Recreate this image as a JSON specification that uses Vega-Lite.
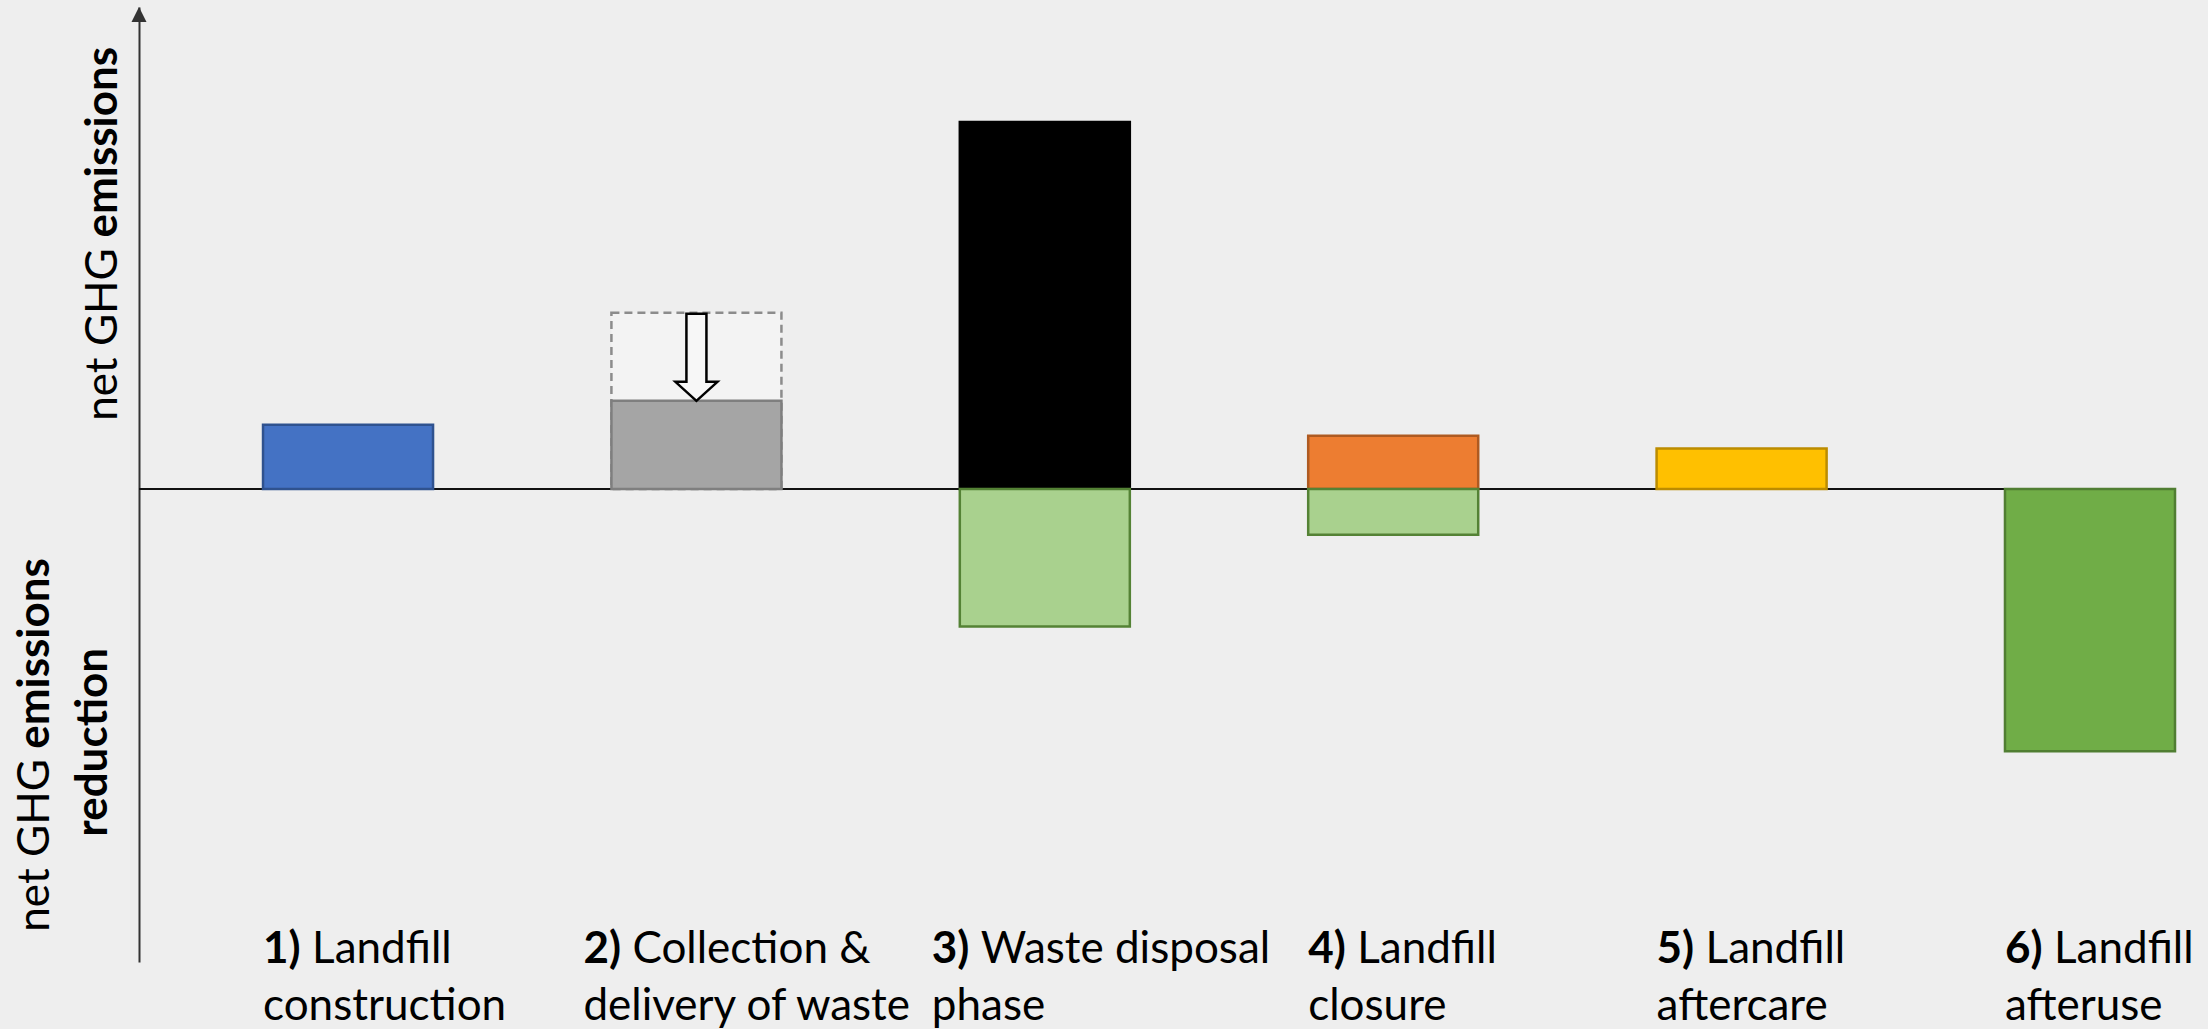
{
  "$schema": "https://vega.github.io/schema/vega-lite/v6.json",
  "width": 2036,
  "height": 955,
  "autosize": {"type": "none"},
  "padding": {"left": 139, "top": 7, "right": 33, "bottom": 67},
  "background": "#eeeeee",
  "config": {"view": {"stroke": null}, "font": "Lato"},
  "datasets": {
    "phases": [
      {"stage": "1) Landfill\nconstruction", "part": "Landfill construction", "value": 17.5},
      {"stage": "2) Collection &\ndelivery of waste", "part": "Collection & delivery", "value": 24},
      {"stage": "3) Waste disposal\nphase", "part": "Waste disposal", "value": 100},
      {"stage": "3) Waste disposal\nphase", "part": "Emissions reduction", "value": -37.5},
      {"stage": "4) Landfill\nclosure", "part": "Landfill closure", "value": 14.5},
      {"stage": "4) Landfill\nclosure", "part": "Emissions reduction", "value": -12.5},
      {"stage": "5) Landfill\naftercare", "part": "Landfill aftercare", "value": 11},
      {"stage": "6) Landfill\nafteruse", "part": "Landfill afteruse", "value": -71.5}
    ],
    "before_reduction": [
      {"stage": "2) Collection &\ndelivery of waste", "value": 48}
    ]
  },
  "layer": [
    {
      "layer": [
        {
          "data": {"values": [{}]},
          "mark": {"type": "rule", "color": "#111111", "strokeWidth": 2},
          "encoding": {"y": {"datum": 0, "type": "quantitative"}}
        },
        {
          "data": {"name": "before_reduction"},
          "mark": {"type": "bar", "fill": "#f3f3f3", "stroke": "#8c8c8c", "strokeWidth": 2.5, "strokeDash": [8, 5]},
          "encoding": {
            "x": {
              "field": "stage",
              "type": "nominal",
              "axis": {
                "orient": "bottom",
                "title": null,
                "domain": false,
                "ticks": false,
                "tickSize": 0,
                "grid": false,
                "labelAngle": 0,
                "labelAlign": "left",
                "labelBaseline": "top",
                "labelOffset": {"expr": "(substring(datum.label, 0, 1) == '2' || substring(datum.label, 0, 1) == '3') ? -113 : -85"},
                "labelPadding": 22,
                "labelFontSize": 44,
                "labelFontWeight": "normal",
                "labelColor": "#000000",
                "labelLimit": 600,
                "labelOverlap": false,
                "labelFlush": false,
                "labelExpr": "split(datum.label, '\\n')[1]"
              }
            },
            "y": {"field": "value", "type": "quantitative"}
          }
        },
        {
          "data": {"name": "phases"},
          "mark": {"type": "bar", "strokeWidth": 2.5},
          "encoding": {
            "x": {
              "field": "stage",
              "type": "nominal",
              "scale": {"paddingInner": 0.512, "paddingOuter": 0.178, "align": 1},
              "axis": {
                "orient": "bottom",
                "title": null,
                "domain": false,
                "ticks": false,
                "tickSize": 0,
                "grid": false,
                "labelAngle": 0,
                "labelAlign": "left",
                "labelBaseline": "top",
                "labelOffset": {"expr": "(substring(datum.label, 0, 1) == '2' || substring(datum.label, 0, 1) == '3') ? -113 : -85"},
                "labelPadding": -35,
                "labelFontSize": 44,
                "labelFontWeight": "bold",
                "labelColor": "#000000",
                "labelLimit": 600,
                "labelOverlap": false,
                "labelFlush": false,
                "labelExpr": "split(datum.label, ')')[0] + ')'"
              }
            },
            "y": {
              "field": "value",
              "type": "quantitative",
              "stack": null,
              "scale": {"domain": [-128.9, 131.3], "nice": false, "zero": false},
              "axis": {
                "orient": "left",
                "title": null,
                "grid": false,
                "ticks": false,
                "tickSize": 0,
                "domain": true,
                "domainColor": "#333333",
                "domainWidth": 2,
                "values": [94.6, 42.2, -44.7, -68.9, -97.0],
                "labelExpr": "datum.value > 70 ? 'emissions' : datum.value > 0 ? 'net GHG' : datum.value > -55 ? 'emissions' : datum.value > -80 ? 'reduction' : 'net GHG'",
                "labelAngle": 270,
                "labelAlign": "center",
                "labelBaseline": "alphabetic",
                "labelFontSize": 44,
                "labelColor": "#000000",
                "labelFontWeight": {"expr": "datum.value > 70 || (datum.value < 0 && datum.value > -80) ? 'bold' : 'normal'"},
                "labelPadding": {"expr": "datum.value > 0 ? 23 : (datum.value > -55 || datum.value < -80) ? 91 : 33"},
                "labelOverlap": false,
                "labelFlush": false,
                "labelBound": false,
                "labelLimit": 600
              }
            },
            "fill": {
              "field": "part",
              "type": "nominal",
              "legend": null,
              "scale": {
                "domain": ["Landfill construction", "Collection & delivery", "Waste disposal", "Emissions reduction", "Landfill closure", "Landfill aftercare", "Landfill afteruse"],
                "range": ["#4472c4", "#a5a5a5", "#000000", "#a9d18e", "#ed7d31", "#ffc000", "#70ad47"]
              }
            },
            "stroke": {
              "field": "part",
              "type": "nominal",
              "legend": null,
              "scale": {
                "domain": ["Landfill construction", "Collection & delivery", "Waste disposal", "Emissions reduction", "Landfill closure", "Landfill aftercare", "Landfill afteruse"],
                "range": ["#2f528f", "#7f7f7f", "#000000", "#548235", "#ae5a21", "#bc8c00", "#507e32"]
              }
            }
          }
        },
        {
          "data": {"name": "phases"},
          "transform": [{"filter": "datum.part == 'Collection & delivery'"}],
          "mark": {
            "type": "point",
            "shape": "M -0.23 -2 L 0.23 -2 L 0.23 -0.437 L 0.483 -0.437 L 0 0 L -0.483 -0.437 L -0.23 -0.437 Z",
            "size": 7569,
            "filled": true,
            "fill": "#f7f7f7",
            "stroke": "#000000",
            "strokeWidth": 2.5,
            "opacity": 1
          },
          "encoding": {
            "x": {
              "field": "stage",
              "type": "nominal",
              "axis": {
                "orient": "bottom",
                "title": null,
                "domain": false,
                "ticks": false,
                "tickSize": 0,
                "grid": false,
                "labelAngle": 0,
                "labelAlign": "left",
                "labelBaseline": "top",
                "labelOffset": {"expr": "(substring(datum.label, 0, 1) == '2' || substring(datum.label, 0, 1) == '3') ? -64 : -36"},
                "labelPadding": -35,
                "labelFontSize": 44,
                "labelFontWeight": "normal",
                "labelColor": "#000000",
                "labelLimit": 600,
                "labelOverlap": false,
                "labelFlush": false,
                "labelExpr": "substring(split(datum.label, '\\n')[0], 3)"
              }
            },
            "y": {"field": "value", "type": "quantitative"}
          }
        }
      ],
      "resolve": {"axis": {"x": "independent"}}
    },
    {
      "data": {"values": [{}]},
      "mark": {"type": "point", "shape": "M 0 0 L 1 2 L -1 2 Z", "size": 225, "filled": true, "fill": "#333333", "strokeWidth": 0, "opacity": 1},
      "encoding": {
        "x": {"datum": 0, "type": "quantitative", "scale": {"domain": [0, 1]}, "axis": null},
        "y": {"datum": 131.3, "type": "quantitative"}
      }
    }
  ],
  "resolve": {"scale": {"x": "independent"}}
}
